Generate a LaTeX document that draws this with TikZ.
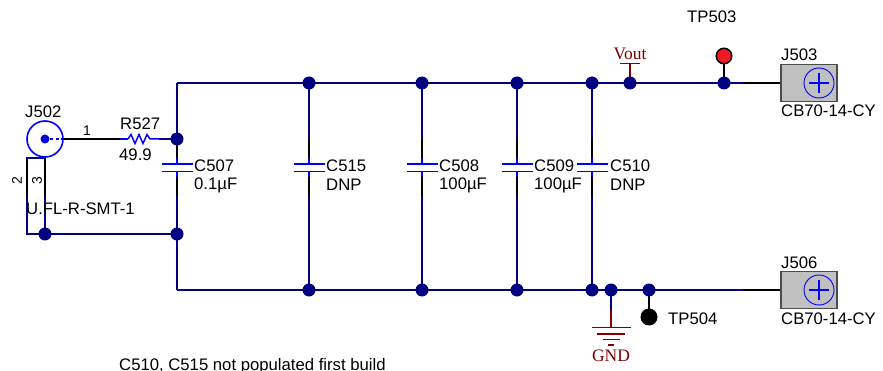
\documentclass[tikz,border=0pt]{standalone}
\usepackage{fontspec}
\setmainfont{Liberation Sans}
\newfontfamily\netfont{Liberation Serif}
\definecolor{wirenavy}{RGB}{0,0,128}
\definecolor{pinblue}{RGB}{0,0,255}
\definecolor{netred}{RGB}{128,0,0}
\definecolor{tpred}{RGB}{237,28,36}
\definecolor{jackgray}{RGB}{192,192,192}
\tikzset{
  wire/.style={draw=wirenavy,line width=1.5pt},
  pinwire/.style={draw=black,line width=1.5pt},
  bluewire/.style={draw=pinblue,line width=1.5pt},
  plate/.style={draw=pinblue,line width=1.9pt},
  netwire/.style={draw=netred,line width=1.5pt},
  junction/.style={circle,fill=wirenavy,inner sep=0pt,minimum size=13pt},
  reflabel/.style={inner sep=0pt,font=\fontsize{16.7}{16.7}\selectfont},
  netlabel/.style={inner sep=0pt,text=netred,font=\netfont\fontsize{17.5}{17.5}\selectfont},
  pinlabel/.style={inner sep=0pt,font=\fontsize{14}{14}\selectfont},
  jackbox/.style={draw=black!70,fill=jackgray,line width=1.2pt,minimum width=56pt,minimum height=37pt,inner sep=0pt},
}
\begin{document}
\begin{tikzpicture}[x=1pt,y=-1pt]
    \useasboundingbox (0,0) rectangle (883,371);
    % junctions on the two rails
    \foreach \name/\x in {a/309,b/422,c/517,d/592,e/630,f/724} {
      \coordinate (top\name) at (\x,83);
    }
    \foreach \name/\x in {a/309,b/422,c/517,d/592,e/611,f/649} {
      \coordinate (bot\name) at (\x,290);
    }
    \coordinate (topleft) at (177,83);
    \coordinate (botleft) at (177,290);
    \coordinate (rin) at (177,139);
    \coordinate (rgnd) at (177,234);
    \coordinate (jgnd) at (45,234);
    \coordinate (jbend) at (27,234);
    \coordinate (jpin) at (27,158);
    \coordinate (jpinb) at (45,158);
    \node[jackbox] (jtop) at (809,83) {};
    \node[jackbox] (jbot) at (809,290) {};
    % rails and returns
    \draw[wire] (jtop.west) -- (topleft);
    \draw[wire] (botleft) -- (jbot.west);
    \draw[wire] (rgnd) -- (jbend) -- (jpin) -- (jpinb) -- (jgnd);
    \draw[pinwire] (jtop.west) -- (743,83);
    \draw[pinwire] (jbot.west) -- (743,290);
    \draw[pinwire] (27,159) -- (27,196);
    \draw[pinwire] (45,159) -- (45,196);
    \draw[pinwire] (63,139) -- (120,139);
    \draw[bluewire] (120,139) -- (128,139);
    \draw[wire] (159,139) -- (rin);
    % resistor
    \draw[bluewire] (128,139) -- (131,134.5) -- (135,143.5) -- (139,134.5) -- (143,143.5) -- (147,134.5) -- (150,139) -- (159,139);
    % capacitors
    \foreach \t/\b in {topleft/botleft,topa/bota,topb/botb,topc/botc,topd/botd} {
      \draw[wire] (\t) -- (\t |- 0,140);
      \draw[wire] (\b) -- (\b |- 0,196);
      \draw[pinwire] (\t |- 0,140) -- (\t |- 0,158);
      \draw[bluewire] (\t |- 0,158) -- (\t |- 0,163.7);
      \draw[bluewire] (\t |- 0,171.5) -- (\t |- 0,177);
      \draw[pinwire] (\t |- 0,177) -- (\t |- 0,196);
      \draw[plate] ([xshift=-15.5pt]\t |- 0,163.7) -- ([xshift=15.5pt]\t |- 0,163.7);
      \draw[plate] ([xshift=-15.5pt]\t |- 0,171.5) -- ([xshift=15.5pt]\t |- 0,171.5);
    }
    % test points and net flags
    \draw[pinwire] (topf) -- (724,56);
    \draw[pinwire] (botf) -- (649,316);
    \draw[wire] (bote) -- (611,310);
    \draw[netwire] (611,310) -- (611,328);
    \draw[netwire] (592,327.7) -- (631,327.7);
    \draw[netwire] (597,334) -- (625,334);
    \draw[netwire] (603,339.5) -- (620,339.5);
    \draw[netwire] (608,345) -- (614,345);
    \draw[netwire] (tope) -- (630,64);
    \draw[netwire] (620,63.7) -- (640,63.7);
    \node[circle,fill=tpred,draw=black,line width=1.5pt,minimum size=15.5pt,inner sep=0pt] (tpa) at (724,56) {};
    \node[circle,fill=black,minimum size=17pt,inner sep=0pt] (tpb) at (649,317) {};
    % junction dots
    \foreach \p in {topa,topb,topc,topd,tope,topf,bota,botb,botc,botd,bote,botf,rin,rgnd,jgnd} {
      \node[junction] at (\p) {};
    }
    % connector J502
    \draw[draw=pinblue,line width=1.6pt] (45,139) circle (18);
    \draw[draw=pinblue,line width=1.4pt,dash pattern=on 3pt off 2.5pt] (50,139) -- (63,139);
    \node[circle,fill=pinblue!70!wirenavy,minimum size=9pt,inner sep=0pt] (jcore) at (45,139) {};
    % jack symbols
    \foreach \c in {jtop,jbot} {
      \draw[draw=pinblue,line width=0.9pt] ([xshift=10pt]\c.center) circle (15);
      \draw[draw=pinblue,line width=1.2pt] ([xshift=0pt]\c.center) -- ([xshift=20pt]\c.center);
      \draw[draw=pinblue,line width=1.2pt] ([xshift=10pt,yshift=10pt]\c.center) -- ([xshift=10pt,yshift=-10pt]\c.center);
    }
    % labels
    \node[reflabel,anchor=west] (lja) at (25,112) {J502};
    \node[reflabel,anchor=west] (lr) at (120,124) {R527};
    \node[reflabel,anchor=west] (lrv) at (119,155) {49.9};
    \node[pinlabel] (lone) at (87,131) {1};
    \node[pinlabel,rotate=90] (ltwo) at (17,181) {2};
    \node[pinlabel,rotate=90] (lthree) at (37,181) {3};
    \node[reflabel,anchor=west] (lum) at (26,209) {U.FL-R-SMT-1};
    \foreach \n/\x/\r/\v in {a/194/C507/0.1µF,b/326/C515/DNP,c/439/C508/100µF,d/534/C509/100µF,e/610/C510/DNP} {
      \node[reflabel,anchor=west] (lc\n) at (\x,166) {\r};
      \node[reflabel,anchor=west] (lv\n) at (\x,185) {\v};
    }
    \node[reflabel,anchor=west] (ltpa) at (687,17) {TP503};
    \node[reflabel,anchor=west] (ltpb) at (668,319) {TP504};
    \node[reflabel,anchor=west] (ljt) at (781,55) {J503};
    \node[reflabel,anchor=west] (ljb) at (781,263) {J506};
    \node[reflabel,anchor=west] (lmt) at (781,111) {CB70-14-CY};
    \node[reflabel,anchor=west] (lmb) at (781,319) {CB70-14-CY};
    \node[netlabel] (lvout) at (630,54) {Vout};
    \node[netlabel] (lgnd) at (611,356) {GND};
    \node[reflabel,anchor=west] (lnote) at (119,366) {C510, C515 not populated first build};
\end{tikzpicture}
\end{document}
